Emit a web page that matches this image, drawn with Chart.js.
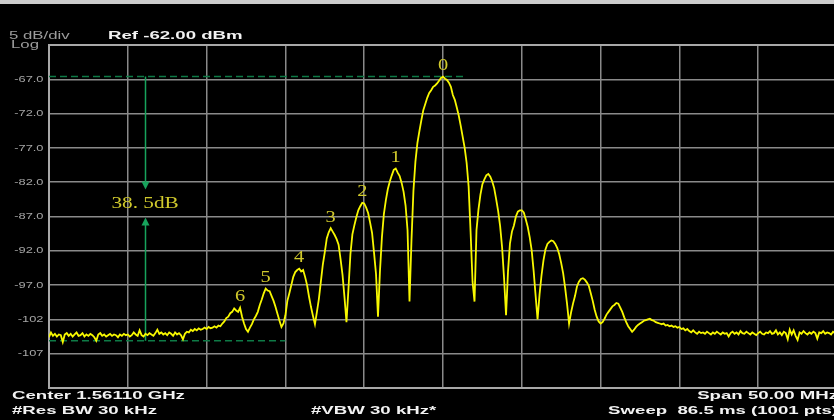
<!DOCTYPE html>
<html>
<head>
<meta charset="utf-8">
<title>Spectrum 1.56110 GHz</title>
<script src="https://cdn.jsdelivr.net/npm/chart.js@4.4.1/dist/chart.umd.min.js"></script>
<style>
  html, body { margin: 0; padding: 0; background: #000; overflow: hidden; width: 834px; height: 420px; }
  #spec { position: absolute; left: 0; top: 0; }
  #topbar { position: absolute; left: 0; top: 0; width: 834px; height: 4px; background: #cdcdcd; }
</style>
</head>
<body>
<canvas id="spec" width="850" height="420"></canvas>
<div id="topbar"></div>
<script>
// Sweep: offset from centre frequency in MHz, one reading every 0.125 MHz
const startMHz = -25;
const stepMHz = 0.125;

// Trace levels in dBm, left to right across the 50 MHz span
const levelDbm = [
  -104.6,-103.9,-104.4,-104.1,-104.5,-104.2,-104.3,-105.3,-104.2,-104.0,
  -104.4,-104.1,-104.5,-104.2,-103.9,-104.4,-104.3,-104.0,-104.5,-104.2,
  -104.4,-104.1,-104.3,-104.6,-105.1,-104.2,-104.0,-104.4,-104.2,-104.5,
  -104.3,-104.1,-104.4,-104.2,-104.3,-104.6,-104.2,-104.4,-104.1,-104.3,
  -104.2,-104.5,-104.3,-103.9,-104.2,-104.4,-103.6,-104.3,-104.5,-104.1,
  -104.3,-104.0,-104.2,-104.4,-104.0,-103.5,-104.1,-103.9,-104.2,-104.0,
  -104.3,-103.9,-104.1,-104.4,-103.9,-104.2,-104.0,-104.3,-104.9,-104.1,
  -103.8,-103.9,-103.5,-103.7,-103.4,-103.6,-103.3,-103.5,-103.4,-103.2,
  -103.4,-103.1,-103.3,-103.2,-103.0,-103.2,-102.9,-103.0,-102.6,-102.3,
  -101.8,-101.6,-101.1,-100.9,-100.4,-100.7,-100.9,-100.3,-101.6,-102.6,
  -103.4,-103.8,-103.2,-102.7,-102.0,-101.5,-100.9,-99.9,-99.1,-98.2,
  -97.5,-97.8,-97.9,-98.6,-99.3,-100.2,-101.2,-102.2,-103.1,-102.6,
  -101.4,-99.3,-98.2,-97.0,-95.8,-95.1,-94.8,-94.6,-95.0,-94.8,
  -95.8,-97.0,-98.7,-100.2,-101.5,-102.7,-100.9,-99.0,-96.5,-94.0,
  -92.2,-90.2,-89.3,-88.7,-89.2,-89.7,-90.3,-91.1,-93.2,-95.5,
  -98.8,-102.4,-97.6,-92.5,-89.6,-88.3,-87.1,-86.1,-85.5,-85.0,
  -85.1,-85.7,-86.5,-87.9,-89.4,-92.3,-95.4,-101.6,-95.0,-90.0,
  -86.6,-84.6,-83.0,-81.9,-81.0,-80.2,-80.0,-80.6,-81.1,-82.1,
  -83.4,-85.4,-89.0,-99.4,-90.5,-83.2,-79.0,-76.3,-74.6,-73.0,
  -71.5,-70.6,-69.7,-69.0,-68.6,-68.1,-67.9,-67.6,-67.2,-66.8,
  -66.6,-66.9,-67.1,-67.5,-68.1,-69.3,-70.0,-71.1,-72.3,-73.8,
  -75.4,-77.0,-79.2,-82.6,-89.2,-96.5,-99.4,-89.0,-86.0,-83.8,
  -82.3,-81.6,-81.0,-80.8,-81.2,-81.9,-82.9,-84.5,-86.2,-88.4,
  -91.5,-96.0,-101.4,-95.0,-90.9,-89.2,-88.3,-87.0,-86.3,-86.1,
  -86.1,-86.4,-87.4,-88.5,-90.0,-91.9,-94.9,-98.5,-102.0,-98.4,
  -95.6,-93.4,-91.8,-91.0,-90.7,-90.5,-90.6,-91.0,-91.6,-92.5,
  -93.8,-95.3,-97.4,-99.8,-102.6,-101.0,-99.7,-98.6,-97.2,-96.5,
  -96.1,-96.0,-96.2,-96.6,-97.1,-98.2,-99.3,-100.6,-101.6,-102.3,
  -102.6,-102.4,-101.9,-101.3,-100.9,-100.5,-100.1,-99.9,-99.6,-99.7,
  -100.3,-100.9,-101.7,-102.4,-103.0,-103.4,-103.8,-103.5,-103.1,-102.8,
  -102.6,-102.4,-102.2,-102.1,-102.0,-101.9,-102.1,-102.2,-102.4,-102.5,
  -102.6,-102.7,-102.6,-102.9,-102.8,-103.0,-102.9,-103.1,-103.0,-103.2,
  -103.1,-103.4,-103.3,-103.6,-103.4,-103.7,-103.9,-103.6,-103.9,-104.1,
  -103.8,-104.0,-103.9,-104.1,-103.8,-104.0,-104.2,-103.9,-104.1,-103.8,
  -104.0,-104.2,-103.9,-104.1,-104.0,-104.5,-104.0,-103.8,-104.1,-103.9,
  -104.2,-103.7,-104.0,-104.1,-103.8,-104.0,-104.2,-103.9,-104.1,-104.3,
  -104.0,-103.8,-104.1,-104.2,-103.9,-104.0,-103.7,-104.1,-104.0,-103.6,
  -104.2,-103.9,-104.3,-103.8,-104.0,-104.9,-103.5,-104.2,-103.6,-104.4,
  -105.0,-103.9,-104.1,-103.7,-104.0,-104.2,-103.9,-104.1,-103.8,-104.0,
  -104.8,-103.9,-104.0,-103.7,-104.1,-103.9,-104.0,-104.2,-103.8,-104.0,
  -104.1
];

// Numbered lobes: main lobe 0 and the lower-side lobes 1..6
const peakNames = ['0', '1', '2', '3', '4', '5', '6'];
const peakFreqMHz = [0, -3.0, -5.125, -7.125, -9.125, -11.25, -12.875];
const peakLevelDbm = [-66.6, -80.0, -85.0, -88.7, -94.6, -97.5, -100.3];

// Delta marker between main lobe peak and noise floor
const markerTopDbm = -66.6;
const markerDeltaDb = 38.5;
const markerTopEndMHz = 1.4;
const markerBottomEndMHz = -10.0;
const markerArrowMHz = -18.9;

// Y axis: 5 dB/div from the reference level down
const refLevelDbm = -62;
const dbPerDiv = 5;
const divisions = 10;

// Annotation texts
const headerLeft = ['5 dB/div', 'Log'];
const headerRef = 'Ref -62.00 dBm';
const footerLeft = ['Center 1.56110 GHz', '#Res BW 30 kHz'];
const footerMid = '#VBW 30 kHz*';
const footerRight = ['Span 50.00 MHz', 'Sweep  86.5 ms (1001 pts)'];

const points = levelDbm.map((v, i) => ({ x: startMHz + i * stepMHz, y: v }));

function stretchedText(ctx, text, x, y, font, color, align, sx) {
  ctx.save();
  ctx.translate(x, y);
  ctx.scale(sx, 1);
  ctx.font = font;
  ctx.fillStyle = color;
  ctx.textAlign = align;
  ctx.textBaseline = 'middle';
  ctx.fillText(text, 0, 0);
  ctx.restore();
}

const blackBackground = {
  id: 'blackBackground',
  beforeDraw(chart) {
    const ctx = chart.ctx;
    ctx.save();
    ctx.fillStyle = '#000';
    ctx.fillRect(0, 0, chart.width, chart.height);
    ctx.restore();
  }
};

const frameAndMarkers = {
  id: 'frameAndMarkers',
  beforeDatasetsDraw(chart) {
    const { ctx, chartArea: a } = chart;
    const xs = chart.scales.x, ys = chart.scales.y;
    ctx.save();
    // graticule frame
    ctx.strokeStyle = '#a8a8a8';
    ctx.lineWidth = 2;
    ctx.strokeRect(a.left, a.top, a.right - a.left, a.bottom - a.top);

    // delta marker reference lines
    const yTop = ys.getPixelForValue(markerTopDbm);
    const yBot = ys.getPixelForValue(markerTopDbm - markerDeltaDb);
    ctx.strokeStyle = '#0e7a46';
    ctx.lineWidth = 1.5;
    ctx.setLineDash([7, 4]);
    ctx.beginPath();
    ctx.moveTo(xs.getPixelForValue(startMHz), yTop);
    ctx.lineTo(xs.getPixelForValue(markerTopEndMHz), yTop);
    ctx.moveTo(xs.getPixelForValue(startMHz), yBot);
    ctx.lineTo(xs.getPixelForValue(markerBottomEndMHz), yBot);
    ctx.stroke();

    // measuring arrow
    ctx.setLineDash([]);
    const ax = Math.round(xs.getPixelForValue(markerArrowMHz)) + 0.5;
    const yMid = (yTop + yBot) / 2 - 5;
    ctx.strokeStyle = '#17a35c';
    ctx.fillStyle = '#17a35c';
    ctx.lineWidth = 1.5;
    ctx.beginPath();
    ctx.moveTo(ax, yTop);
    ctx.lineTo(ax, yMid - 20);
    ctx.moveTo(ax, yMid + 20);
    ctx.lineTo(ax, yBot);
    ctx.stroke();
    ctx.beginPath();
    ctx.moveTo(ax - 4, yMid - 22);
    ctx.lineTo(ax + 4, yMid - 22);
    ctx.lineTo(ax, yMid - 14);
    ctx.closePath();
    ctx.moveTo(ax - 4, yMid + 22);
    ctx.lineTo(ax + 4, yMid + 22);
    ctx.lineTo(ax, yMid + 14);
    ctx.closePath();
    ctx.fill();
    ctx.restore();
  },
  afterDatasetsDraw(chart) {
    const { ctx } = chart;
    const xs = chart.scales.x, ys = chart.scales.y;
    const serif = '17px "Liberation Serif", "DejaVu Serif", serif';
    const labelColor = '#d0c92c';
    // delta value between the marker lines
    const yTop = ys.getPixelForValue(markerTopDbm);
    const yBot = ys.getPixelForValue(markerTopDbm - markerDeltaDb);
    const deltaText = markerDeltaDb.toFixed(1).replace('.', '. ') + 'dB';
    stretchedText(ctx, deltaText, xs.getPixelForValue(markerArrowMHz), (yTop + yBot) / 2 - 5,
      serif, labelColor, 'center', 1.25);
    // lobe numbers above each peak
    peakNames.forEach((name, k) => {
      const px = xs.getPixelForValue(peakFreqMHz[k]);
      const py = ys.getPixelForValue(peakLevelDbm[k]) - 11;
      stretchedText(ctx, name, px, py, serif, labelColor, 'center', 1.2);
    });
  },
  afterDraw(chart) {
    const { ctx } = chart;
    const ys = chart.scales.y;
    // amplitude labels on the left of the graticule
    const tickFont = '9.5px "Liberation Sans", Arial, sans-serif';
    ys.ticks.forEach(t => {
      const v = t.value;
      if (v >= refLevelDbm || v <= refLevelDbm - dbPerDiv * divisions) return;
      const label = v > -100 ? v.toFixed(1) : String(Math.round(v));
      stretchedText(ctx, label, 43.5, ys.getPixelForValue(v), tickFont, '#a6a6a6', 'right', 1.35);
    });
    // header
    const greyFont = '10.5px "Liberation Sans", Arial, sans-serif';
    stretchedText(ctx, headerLeft[0], 9, 36.5, greyFont, '#9c9c9c', 'left', 1.6);
    stretchedText(ctx, headerLeft[1], 11, 45, greyFont, '#9c9c9c', 'left', 1.6);
    const boldFont = 'bold 11.5px "Liberation Sans", Arial, sans-serif';
    stretchedText(ctx, headerRef, 108, 36, boldFont, '#f2f2f2', 'left', 1.62);
    // footer
    stretchedText(ctx, footerLeft[0], 12, 396, boldFont, '#f2f2f2', 'left', 1.62);
    stretchedText(ctx, footerLeft[1], 12, 411, boldFont, '#f2f2f2', 'left', 1.62);
    stretchedText(ctx, footerMid, 311, 411, boldFont, '#f2f2f2', 'left', 1.62);
    stretchedText(ctx, footerRight[0], 838, 396, boldFont, '#f2f2f2', 'right', 1.62);
    stretchedText(ctx, footerRight[1], 838, 411, boldFont, '#f2f2f2', 'right', 1.62);
  }
};

new Chart(document.getElementById('spec'), {
  type: 'line',
  data: {
    datasets: [{
      data: points,
      borderColor: '#f8f800',
      borderWidth: 1.8,
      pointRadius: 0,
      tension: 0,
      fill: false
    }]
  },
  options: {
    responsive: false,
    animation: false,
    events: [],
    layout: { padding: { top: 45, right: 13, left: 0, bottom: 0 } },
    plugins: { legend: { display: false }, tooltip: { enabled: false } },
    scales: {
      x: {
        type: 'linear',
        min: startMHz,
        max: -startMHz,
        ticks: { display: false, stepSize: 5 },
        grid: { color: '#8a8a8a', lineWidth: 1.5, drawTicks: false },
        border: { display: false },
        afterFit(scale) { scale.height = 32; }
      },
      y: {
        type: 'linear',
        min: refLevelDbm - dbPerDiv * divisions,
        max: refLevelDbm,
        ticks: { display: false, stepSize: dbPerDiv },
        grid: { color: '#8a8a8a', lineWidth: 1.5, drawTicks: false },
        border: { display: false },
        afterFit(scale) { scale.width = 49; }
      }
    }
  },
  plugins: [blackBackground, frameAndMarkers]
});
</script>
</body>
</html>
